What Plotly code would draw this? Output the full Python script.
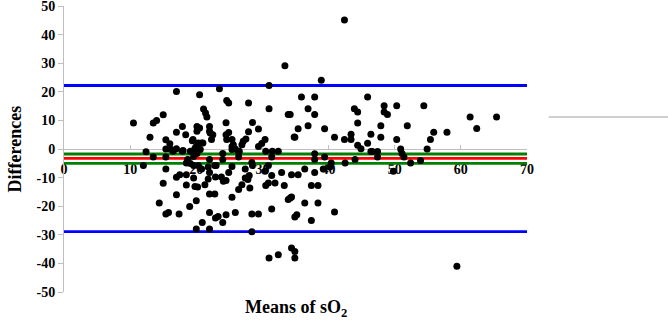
import plotly.graph_objects as go

# ---- data ----
points = [
    (42.4, 45.1), (33.4, 29.1), (38.9, 24.0), (31.0, 22.2), (23.5, 21.1), (20.5, 19.0), (17.0, 20.1),
    (59.4, -41.0), (31.0, -38.1), (32.4, -37.0), (34.9, -38.1), (34.4, -34.6), (34.9, -35.8), (28.4, -28.9),
    (10.5, 9.1), (13.5, 9.1), (14.0, 10.0), (15.0, 12.0), (13.0, 4.1), (12.4, -1.0), (13.5, -2.8),
    (15.4, 0.0), (15.4, -2.8), (17.0, 5.9), (17.9, 7.9), (18.4, 5.0), (15.4, 3.2), (16.0, 1.8),
    (16.5, -0.8), (17.0, 0.1), (18.0, -0.5), (19.4, 2.9), (19.1, -0.8), (19.8, 0.3), (18.7, -3.7),
    (19.6, -2.6), (12.0, -5.8), (15.4, -7.0), (15.0, -12.0), (14.4, -18.9), (15.4, -22.7), (15.8, -22.2),
    (17.0, -16.0), (17.4, -22.7), (17.0, -9.9), (17.5, -9.0), (18.5, -9.0), (18.5, -12.6), (19.0, -20.1),
    (20.0, -18.1), (20.0, -28.0), (19.6, -10.1), (19.8, -13.1), (18.5, -4.9), (19.1, -5.1), (16.2, -0.2),
    (20.1, 7.9), (20.1, 6.2), (20.5, 7.3), (19.5, 3.3), (17.9, -0.8), (19.5, -0.8),
    (24.6, 17.0), (24.9, 16.1), (27.9, 16.1), (31.0, 14.1), (33.9, 12.1), (21.1, 14.0), (21.4, 12.6),
    (21.6, 11.2), (22.0, 7.9), (22.1, 5.6), (22.3, 3.3), (24.5, 9.2), (24.9, 5.8), (24.6, 3.3),
    (25.4, 3.3), (25.6, 1.5), (25.9, 0.0), (26.4, -1.2), (26.4, -2.8), (27.9, 6.0), (28.5, 9.3),
    (29.4, 7.0), (27.1, 2.7), (27.5, 3.5), (26.9, 1.5), (30.4, 3.3), (29.9, 1.9), (29.4, 0.9),
    (30.5, -0.8), (31.5, -0.8), (32.4, -0.8), (31.4, -2.8), (25.4, -0.2), (24.0, -1.6), (24.0, -3.7),
    (22.0, -3.7), (20.3, 2.1), (20.1, -0.2), (20.6, -0.2), (20.8, 2.1), (34.8, 4.2), (28.4, -4.7),
    (22.0, 6.2), (22.5, 5.0), (24.5, 5.0), (21.0, 2.1), (20.0, 0.9), (25.4, 0.9), (26.5, -0.8),
    (20.1, -1.6),
    (20.3, -5.8), (20.8, -7.0), (21.8, -6.3), (22.8, -5.8), (24.9, -8.2), (21.8, -10.5), (22.9, -9.8),
    (23.8, -9.8), (24.1, -11.3), (24.5, -11.0), (21.3, -12.5), (20.2, -13.3), (22.0, -15.7), (22.8, -15.7),
    (27.4, -7.0), (26.9, -12.5), (26.4, -14.2), (27.8, -10.7), (27.4, -10.1), (28.0, -9.3), (28.1, -13.6),
    (28.5, -5.8), (30.5, -12.8), (31.9, -11.9), (32.9, -8.2), (33.3, -12.8), (33.9, -17.7), (34.4, -9.0),
    (31.4, -21.0), (29.4, -22.7), (28.4, -22.7), (25.9, -22.2), (24.5, -23.0), (24.0, -25.7), (23.3, -23.6),
    (22.9, -24.1), (22.0, -22.2), (20.9, -25.7), (22.0, -28.0), (22.0, -8.2), (25.4, -6.1), (25.4, -16.9),
    (30.9, -5.8), (30.4, -7.8), (31.4, -9.3), (34.2, -17.1), (23.0, -5.8), (19.6, -5.8), (30.9, -11.9),
    (35.9, 18.2), (37.9, 18.2), (45.9, 18.2), (36.9, 14.1), (37.9, 12.1), (43.9, 14.1), (44.4, 12.9),
    (48.4, 15.1), (48.4, 12.9), (48.9, 12.1), (50.3, 15.1), (34.2, 12.1), (35.4, 7.1), (36.9, 8.1),
    (34.9, 4.1), (39.4, 7.1), (40.9, 4.1), (42.4, 3.3), (43.4, 5.2), (43.4, 3.3), (44.4, 9.1),
    (46.4, 5.2), (47.9, 8.1), (47.9, 4.1), (45.9, 2.0), (44.4, 1.3), (44.9, 0.1), (46.4, -0.9),
    (47.4, -0.9), (47.4, -2.8), (50.3, 3.3), (37.9, -1.7), (37.9, -3.7), (39.4, -2.8), (40.4, -4.9),
    (42.5, -4.9), (44.0, -3.7), (54.4, 15.1), (61.4, 11.2), (65.4, 11.2), (62.4, 7.2), (51.9, 8.1),
    (55.9, 5.9), (57.9, 5.9), (55.4, 3.3), (50.9, 0.0), (54.9, 0.0), (51.1, -1.6), (51.4, -2.8),
    (46.6, -0.9), (53.9, -4.0), (52.4, -4.9), (49.8, -7.8),
    (35.4, -9.0), (36.4, -7.0), (37.9, -8.2), (39.2, -7.0), (40.2, -6.3), (37.4, -12.8), (38.4, -12.8),
    (34.4, -16.8), (36.4, -18.9), (38.4, -18.9), (40.9, -22.0), (35.2, -23.0), (34.9, -23.8), (37.4, -25.0),
]
means_x = [p[0] for p in points]
diffs_y = [p[1] for p in points]

upper_loa = 22.2
lower_loa = -28.9
mean_diff = -3.3
ci_upper = -1.75
ci_lower = -5.0
line_x = [0, 70]

x_ticks = [0, 10, 20, 30, 40, 50, 60, 70]
x_tick_text = [str(v) for v in x_ticks]
y_ticks = [-50, -40, -30, -20, -10, 0, 10, 20, 30, 40, 50]
y_tick_text = [str(v) for v in y_ticks]

FONT = "Liberation Serif"

fig = go.Figure()
for lvl, col in [(upper_loa, "#0000ff"), (lower_loa, "#0000ff"),
                 (ci_upper, "#008000"), (ci_lower, "#008000"), (mean_diff, "#ff0000")]:
    fig.add_trace(go.Scatter(x=line_x, y=[lvl, lvl], mode="lines",
                             line=dict(color=col, width=2.8), showlegend=False, hoverinfo="skip"))

fig.add_trace(go.Scatter(x=means_x, y=diffs_y, mode="markers",
                         marker=dict(color="black", size=7), showlegend=False))

tick_font = dict(family=FONT, size=14, color="black", weight="bold")

fig.update_layout(
    width=668, height=326,
    margin=dict(l=64, r=141, t=6, b=34, autoexpand=False),
    paper_bgcolor="white", plot_bgcolor="white",
    font=dict(family=FONT, color="black"),
    xaxis=dict(range=[0, 70], tickvals=x_ticks, ticktext=x_tick_text, showgrid=False, zeroline=False,
               showline=True, linecolor="#bfbfbf", linewidth=1,
               ticks="inside", ticklen=4, tickcolor="#bfbfbf",
               anchor="free", position=0.5, layer="below traces", automargin=False,
               tickfont=tick_font, ticklabelstandoff=7, ticklabeloverflow="allow"),
    yaxis=dict(range=[-50, 50], tickvals=y_ticks, ticktext=y_tick_text, showgrid=False,
               zeroline=False, showline=True, linecolor="#bfbfbf", linewidth=1,
               ticks="outside", ticklen=5, tickcolor="#bfbfbf", automargin=False,
               tickfont=tick_font, ticklabeloverflow="allow"),
    annotations=[
        dict(text="<b>Differences</b>", xref="paper", yref="paper", x=-0.105, y=0.5,
             textangle=-90, showarrow=False, font=dict(family=FONT, size=18, color="black"),
             xanchor="center", yanchor="middle"),
        dict(text="<b>Means of sO<sub>2</sub></b>", xref="paper", yref="paper", x=0.5, y=-0.01,
             showarrow=False, font=dict(family=FONT, size=18, color="black"),
             xanchor="center", yanchor="top"),
    ],
    shapes=[
        dict(type="line", xref="paper", yref="paper", x0=1.047, x1=1.31, y0=0.612, y1=0.612,
             line=dict(color="#bfbfbf", width=1.5)),
    ],
)

fig.write_html("out.html")
